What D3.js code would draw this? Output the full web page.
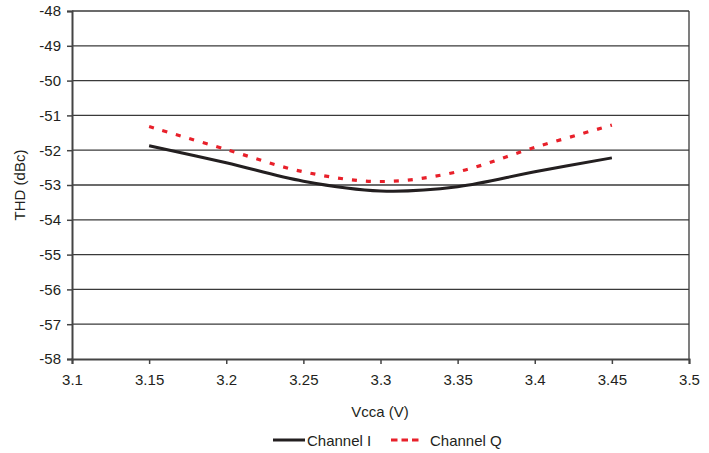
<!DOCTYPE html>
<html><head><meta charset="utf-8">
<script src="https://cdn.jsdelivr.net/npm/d3@7"></script>
<style>body{margin:0;background:#fff}text{font-family:"Liberation Sans",Arial,sans-serif;fill:#231f20}</style>
</head><body><svg id="c" width="709" height="453"></svg>
<script>
const vcca = [3.15, 3.20, 3.25, 3.30, 3.35, 3.40, 3.45];
const channelI = [-51.87, -52.36, -52.89, -53.17, -53.05, -52.62, -52.22];
const channelQ = [-51.32, -51.98, -52.62, -52.90, -52.62, -51.92, -51.28];
const xTicks = [3.1, 3.15, 3.2, 3.25, 3.3, 3.35, 3.4, 3.45, 3.5];
const yTicks = [-48, -49, -50, -51, -52, -53, -54, -55, -56, -57, -58];
const seriesNames = ["Channel I", "Channel Q"];

const svg = d3.select("#c");
const L = 72, R = 689, T = 11, B = 359;
const x = d3.scaleLinear().domain([3.1, 3.5]).range([L, R]);
const y = d3.scaleLinear().domain([-58, -48]).range([B, T]);

// gridlines
svg.append("g").selectAll("line").data(yTicks.filter(v => v !== -58)).join("line")
  .attr("x1", L).attr("x2", R).attr("y1", d => y(d)).attr("y2", d => y(d))
  .attr("stroke", "#3a3a3a").attr("stroke-width", 1.3);
// right border
svg.append("line").attr("x1", R).attr("x2", R).attr("y1", T).attr("y2", B)
  .attr("stroke", "#3a3a3a").attr("stroke-width", 1.3);

const fmtX = d => d3.format("")(+d.toFixed(2));
const xAxis = svg.append("g").attr("transform", `translate(0,${B})`)
  .call(d3.axisBottom(x).tickValues(xTicks).tickSize(5).tickPadding(10).tickFormat(fmtX));
const yAxis = svg.append("g").attr("transform", `translate(${L},0)`)
  .call(d3.axisLeft(y).tickValues(yTicks).tickSize(5).tickPadding(8).tickFormat(d => d));
[xAxis, yAxis].forEach(a => {
  a.select(".domain").attr("stroke", "#444").attr("stroke-width", 2);
  a.selectAll(".tick line").attr("stroke", "#444").attr("stroke-width", 1.5);
  a.selectAll("text").style("font-size", "15px").attr("fill", "#231f20");
});
yAxis.selectAll(".tick text").attr("dx", "2");

const line = d3.line().x((d, i) => x(vcca[i])).y(d => y(d)).curve(d3.curveCatmullRom.alpha(0.5));
svg.append("path").attr("d", line(channelI)).attr("fill", "none")
  .attr("stroke", "#231f20").attr("stroke-width", 3);
svg.append("path").attr("d", line(channelQ)).attr("fill", "none")
  .attr("stroke", "#e8202a").attr("stroke-width", 3.2).attr("stroke-dasharray", "5,9");

svg.append("text").attr("transform", "translate(25,185) rotate(-90)")
  .attr("text-anchor", "middle").style("font-size", "15px").text("THD (dBc)");
svg.append("text").attr("x", 380).attr("y", 417)
  .attr("text-anchor", "middle").style("font-size", "15px").text("Vcca (V)");

// legend
const lg = svg.append("g");
lg.append("line").attr("x1", 273).attr("x2", 305).attr("y1", 440).attr("y2", 440)
  .attr("stroke", "#231f20").attr("stroke-width", 3);
lg.append("text").attr("x", 307).attr("y", 445.5).style("font-size", "15px").text(seriesNames[0]);
lg.append("line").attr("x1", 391).attr("x2", 419).attr("y1", 440).attr("y2", 440)
  .attr("stroke", "#e8202a").attr("stroke-width", 3).attr("stroke-dasharray", "6.5,4");
lg.append("text").attr("x", 430).attr("y", 445.5).style("font-size", "15px").text(seriesNames[1]);
</script></body></html>
